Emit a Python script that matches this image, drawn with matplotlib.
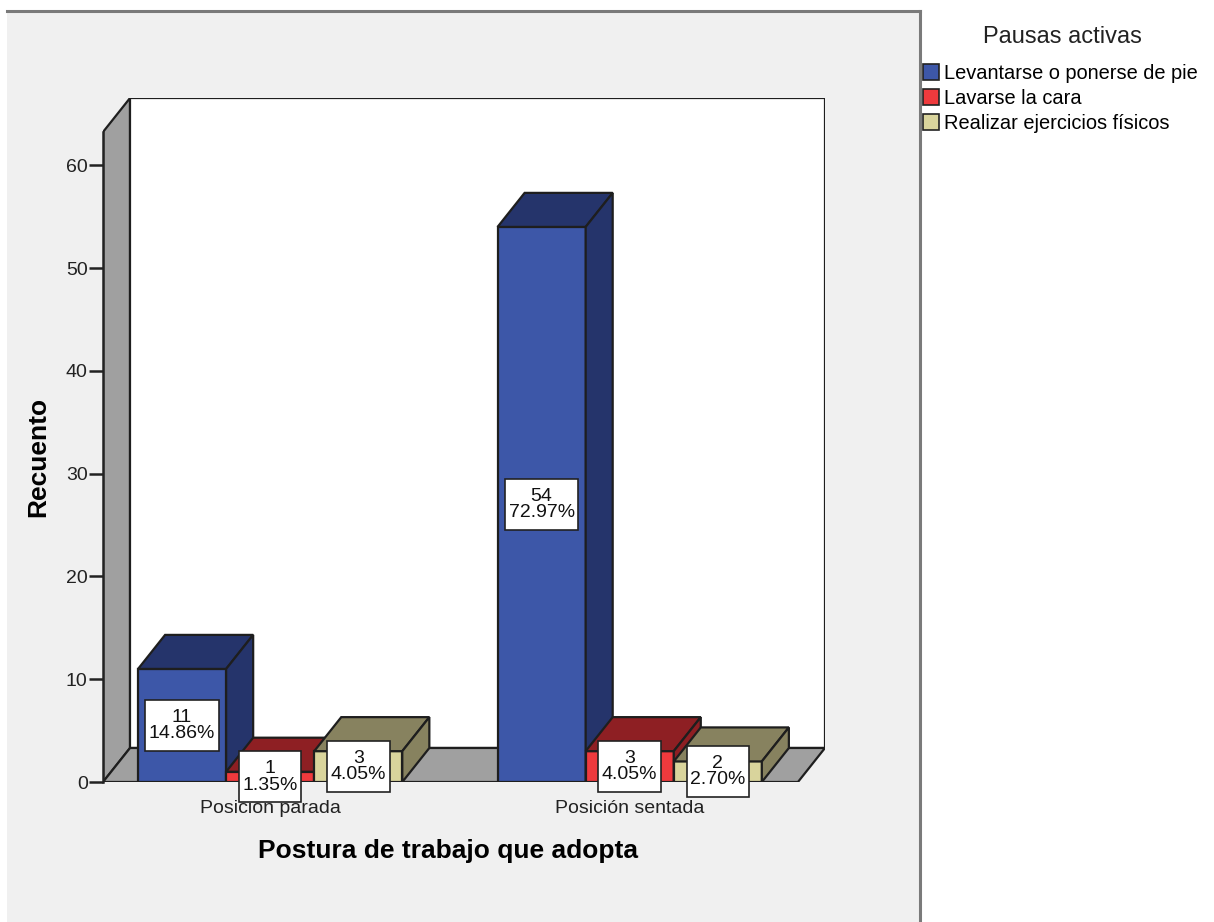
import matplotlib
matplotlib.use('Agg')
import matplotlib.pyplot as plt
from matplotlib.patches import Polygon, Rectangle, Patch
from matplotlib.path import Path

plt.rcParams['font.family'] = ['Liberation Sans', 'DejaVu Sans']

# datos
categorias = ['Posición parada', 'Posición sentada']
series = ['Levantarse o ponerse de pie', 'Lavarse la cara', 'Realizar ejercicios físicos']
recuento = {
    'Levantarse o ponerse de pie': [11, 54],
    'Lavarse la cara': [1, 3],
    'Realizar ejercicios físicos': [3, 2],
}
porcentaje = {
    'Levantarse o ponerse de pie': ['14.86%', '72.97%'],
    'Lavarse la cara': ['1.35%', '4.05%'],
    'Realizar ejercicios físicos': ['4.05%', '2.70%'],
}
y_ticks = [0, 10, 20, 30, 40, 50, 60]

# colores (frente, techo/lado)
col_frente = ['#3d57a8', '#ef3a3d', '#d9d49c']
col_lado = ['#25346b', '#8e1f23', '#87825f']

W, H = 1214, 922
fig = plt.figure(figsize=(W / 100, H / 100), dpi=100)
fig.patch.set_facecolor('white')

# fondo gris del grafico
fondo = fig.add_axes([7 / W, 0, (920 - 7) / W, (H - 11) / H], zorder=-5)
fondo.set_facecolor('#f0f0f0')
fondo.set_xticks([])
fondo.set_yticks([])
for s in ['left', 'bottom']:
    fondo.spines[s].set_visible(False)
for s in ['top', 'right']:
    fondo.spines[s].set_color('#7a7a7a')
    fondo.spines[s].set_linewidth(2.2)

# ejes
ax = fig.add_axes([103 / W, (H - 782) / H, (825 - 103) / W, (782 - 98) / H])
ax.patch.set_visible(False)
x0, x1 = -0.465, 1.468
dx, dy = 0.0752, 3.31
ytop = 63.23
ax.set_xlim(x0, x1 + dx)
ax.set_ylim(0, ytop + dy)
for s in ['top', 'right', 'bottom']:
    ax.spines[s].set_visible(False)
ax.spines['left'].set_bounds(0, ytop)
ax.spines['left'].set_linewidth(1.8)
ax.spines['left'].set_color('#222222')

ec = '#1e1e1e'
lw = 1.6
# pared izquierda, fondo y piso
ax.add_patch(Polygon([(x0, 0), (x0 + dx, dy), (x0 + dx, ytop + dy), (x0, ytop)],
                     closed=True, facecolor='#a0a0a0', edgecolor=ec, lw=lw, zorder=1))
ax.add_patch(Rectangle((x0 + dx, dy), x1 - x0, ytop, facecolor='white',
                       edgecolor=ec, lw=lw, zorder=1))
ax.add_patch(Polygon([(x0, 0), (x1, 0), (x1 + dx, dy), (x0 + dx, dy)],
                     closed=True, facecolor='#a0a0a0', edgecolor=ec, lw=lw, zorder=1))

# barras 3D
ancho = 0.245
for g in range(len(categorias)):
    for i, s in enumerate(series):
        v = recuento[s][g]
        xl = g + (i - 1) * ancho - ancho / 2
        xr = xl + ancho
        z = 2 + g * 3 + i
        ax.add_patch(Rectangle((xl, 0), ancho, v, facecolor=col_frente[i],
                               edgecolor=ec, lw=lw, zorder=z))
        ax.add_patch(Polygon([(xl, v), (xr, v), (xr + dx, v + dy), (xl + dx, v + dy)],
                             closed=True, facecolor=col_lado[i], edgecolor=ec, lw=lw, zorder=z))
        ax.add_patch(Polygon([(xr, 0), (xr + dx, dy), (xr + dx, v + dy), (xr, v)],
                             closed=True, facecolor=col_lado[i], edgecolor=ec, lw=lw, zorder=z))


# caja de etiqueta: poco margen a los lados, mas arriba y abajo
def caja(x, y, w, h, m):
    px, py = 0.18 * m, 0.45 * m
    return Path([(x - px, y - py), (x + w + px, y - py), (x + w + px, y + h + py),
                 (x - px, y + h + py), (x - px, y - py)], closed=True)


# etiquetas
for g in range(len(categorias)):
    for i, s in enumerate(series):
        v = recuento[s][g]
        xc = g + (i - 1) * ancho
        ax.text(xc, v / 2, f'{v}\n{porcentaje[s][g]}', ha='center', va='center',
                fontsize=14, color='#111111', linespacing=0.95, zorder=20,
                bbox=dict(boxstyle=caja, facecolor='white', edgecolor='#222222', lw=1.2))

ax.set_yticks(y_ticks)
ax.set_yticklabels([str(t) for t in y_ticks], fontsize=14, color='#222222')
ax.tick_params(axis='y', length=10, width=1.8, color='#222222', pad=1)
ax.set_xticks(range(len(categorias)))
ax.set_xticklabels(categorias, fontsize=14, color='#222222')
ax.tick_params(axis='x', length=5, width=1.2, color='#222222', pad=8)

ax.set_ylabel('Recuento', fontsize=19, fontweight='bold')
ax.yaxis.set_label_coords(-(103 - 38) / (825 - 103), (782 - 457) / (782 - 98))
ax.set_xlabel('Postura de trabajo que adopta', fontsize=19, fontweight='bold')
ax.xaxis.set_label_coords((448 - 103) / (825 - 103), -(851 - 782) / (782 - 98))
ax.xaxis.label.set_va('center')
ax.yaxis.label.set_va('center')

# leyenda
fig.text(1062 / W, 1 - 37 / H, 'Pausas activas', ha='center', va='center',
         fontsize=17, color='#222222')
handles = [Patch(facecolor=col_frente[i], edgecolor='#222222', lw=1.2) for i in range(3)]
fig.legend(handles, series, loc='upper left', bbox_to_anchor=(923 / W, 1 - 64 / H),
           frameon=False, fontsize=14.4, handlelength=0.8, handleheight=0.8,
           handletextpad=0.25, labelspacing=0.3, borderaxespad=0, borderpad=0)

fig.savefig('out.png', dpi=100)
